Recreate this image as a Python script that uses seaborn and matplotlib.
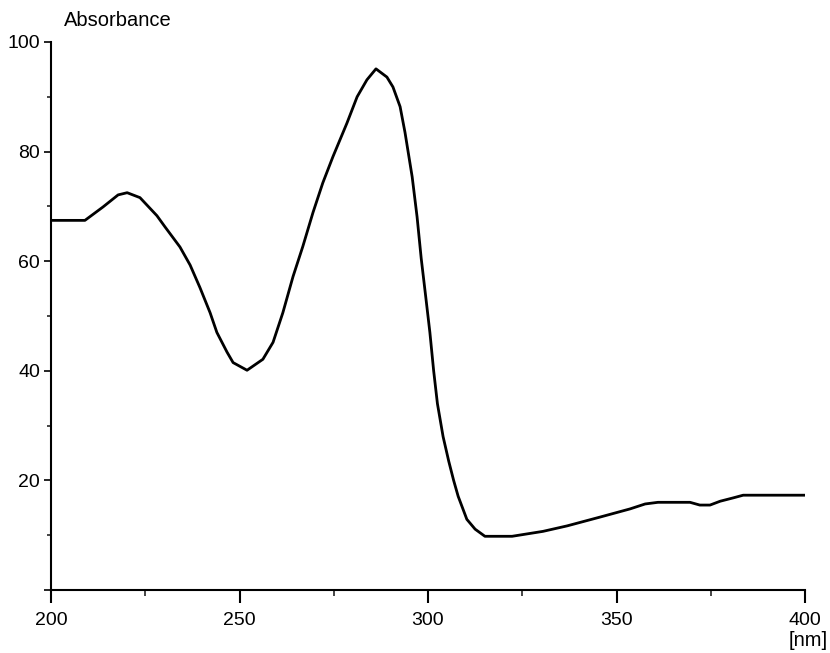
import matplotlib
matplotlib.use("Agg")
import matplotlib.pyplot as plt
import seaborn as sns
import pandas as pd
from matplotlib.ticker import MultipleLocator

wavelength = [200.0, 209.0, 213.8, 217.8, 220.2, 223.6, 228.1, 230.2, 234.2, 236.9,
              239.5, 242.2, 244.0, 246.7, 248.3, 252.0, 256.2, 258.9, 261.5, 264.2,
              266.8, 269.5, 272.1, 274.8, 278.5, 281.2, 283.8, 286.2, 289.1, 290.7,
              292.6, 293.9, 295.8, 297.1, 298.2, 299.4, 300.5, 301.5, 302.5, 304.0,
              305.5, 306.8, 308.0, 310.3, 312.5, 315.1, 322.3, 330.5, 336.9, 345.6,
              353.6, 357.6, 361.0, 369.5, 372.1, 374.8, 377.5, 380.9, 383.6, 400.0]
absorbance = [67.45, 67.45, 69.9, 72.1, 72.5, 71.6, 68.3, 66.3, 62.6, 59.3,
              55.2, 50.6, 47.0, 43.4, 41.5, 40.1, 42.1, 45.2, 50.6, 57.2,
              62.7, 68.9, 74.3, 79.1, 85.2, 90.0, 93.1, 95.1, 93.6, 91.8,
              88.2, 83.5, 75.4, 68.1, 60.5, 53.5, 47.0, 40.0, 34.0, 28.0,
              23.5, 20.0, 17.1, 12.9, 11.1, 9.8, 9.8, 10.7, 11.7, 13.3,
              14.8, 15.7, 16.0, 16.0, 15.5, 15.5, 16.2, 16.8, 17.3, 17.3]

y_ticks = [0, 20, 40, 60, 80, 100]
y_labels = ["", "20", "40", "60", "80", "100"]
x_ticks = [200, 250, 300, 350, 400]
x_labels = ["200", "250", "300", "350", "400"]

sns.set_style("ticks")
plt.rcParams["font.family"] = ["Liberation Sans", "DejaVu Sans"]

df = pd.DataFrame({"wavelength": wavelength, "absorbance": absorbance})

fig = plt.figure(figsize=(8.3, 6.53), dpi=100)
ax = fig.add_axes([51 / 830, 63 / 653, (805 - 51) / 830, (590 - 42) / 653])

sns.lineplot(data=df, x="wavelength", y="absorbance", ax=ax, color="black",
             linewidth=2.0, sort=False)

ax.set_xlim(200, 400)
ax.set_ylim(0, 100)
ax.set_xticks(x_ticks)
ax.set_xticklabels(x_labels)
ax.set_yticks(y_ticks)
ax.set_yticklabels(y_labels)
ax.xaxis.set_minor_locator(MultipleLocator(25))
ax.yaxis.set_minor_locator(MultipleLocator(10))
ax.set_xlabel("")
ax.set_ylabel("")

for side in ["top", "right"]:
    ax.spines[side].set_visible(False)
for side in ["left", "bottom"]:
    ax.spines[side].set_linewidth(1.5)
    ax.spines[side].set_color("black")

ax.tick_params(axis="x", which="major", length=9, width=1.5, pad=7,
               labelsize=14, colors="black")
ax.tick_params(axis="x", which="minor", length=4.5, width=1.2)
ax.tick_params(axis="y", which="major", length=5, width=1.2, pad=3,
               labelsize=14, colors="black")
ax.tick_params(axis="y", which="minor", length=3, width=1.2)

fig.text(64 / 830, 1 - 21 / 653, "Absorbance", fontsize=14.5, ha="left",
         va="center", color="black")
fig.text(828 / 830, 1 - 641 / 653, "[nm]", fontsize=14.5, ha="right",
         va="center", color="black")

fig.savefig("out.png", dpi=100, facecolor="white")
